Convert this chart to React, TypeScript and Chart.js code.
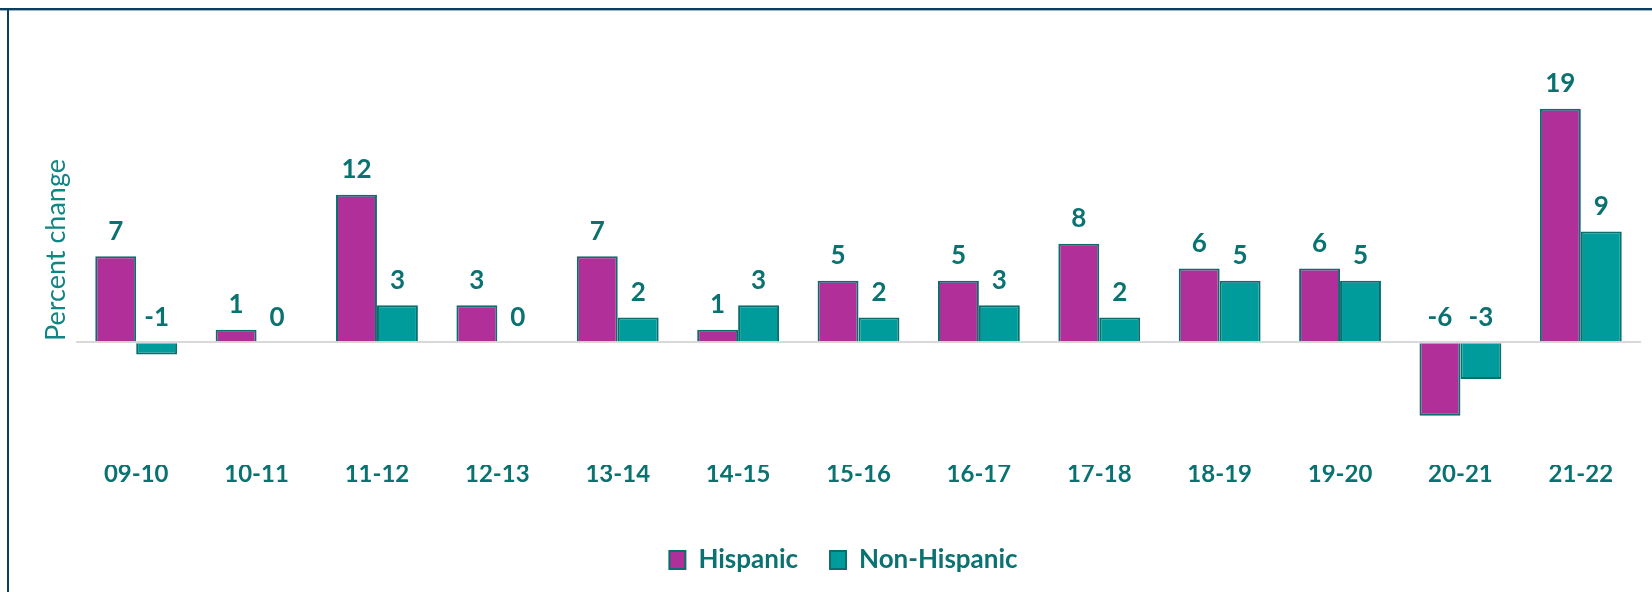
import React, { useEffect, useRef } from "react";
import { Chart, registerables } from "chart.js";

Chart.register(...registerables);

const categories = ["09-10", "10-11", "11-12", "12-13", "13-14", "14-15", "15-16", "16-17", "17-18", "18-19", "19-20", "20-21", "21-22"];
const hispanic = [7, 1, 12, 3, 7, 1, 5, 5, 8, 6, 6, -6, 19];
const nonHispanic = [-1, 0, 3, 0, 2, 3, 2, 3, 2, 5, 5, -3, 9];
const seriesNames = ["Hispanic", "Non-Hispanic"];
const yTitle = "Percent change";

const MAGENTA = "#B02F98";
const TEAL = "#009B9B";
const EDGE = "#0B6E6E";
const TEXT = "#0B7272";
const FONT = "Lato, 'Open Sans', sans-serif";

const labelPlugin = {
  id: "valueLabels",
  afterDatasetsDraw(chart: any) {
    const ctx = chart.ctx;
    const yScale = chart.scales.y;
    const zeroY = yScale.getPixelForValue(0);
    ctx.save();
    ctx.font = `bold 26px ${FONT}`;
    ctx.fillStyle = TEXT;
    ctx.textAlign = "center";
    ctx.textBaseline = "bottom";
    chart.data.datasets.forEach((ds: any, di: number) => {
      const meta = chart.getDatasetMeta(di);
      meta.data.forEach((bar: any, i: number) => {
        const v = ds.data[i];
        const top = Math.min(bar.y, zeroY);
        ctx.fillText(String(v), bar.x, top - 12);
      });
    });
    ctx.restore();
  },
};

export default function App() {
  const ref = useRef<HTMLCanvasElement | null>(null);
  useEffect(() => {
    document.body.style.margin = "0";
    const chart = new Chart(ref.current as HTMLCanvasElement, {
      type: "bar",
      data: {
        labels: categories,
        datasets: [
          { label: seriesNames[0], data: hispanic, backgroundColor: MAGENTA, borderColor: EDGE, borderWidth: 2, categoryPercentage: 0.68, barPercentage: 1.0 },
          { label: seriesNames[1], data: nonHispanic, backgroundColor: TEAL, borderColor: EDGE, borderWidth: 2, categoryPercentage: 0.68, barPercentage: 1.0 },
        ],
      },
      options: {
        animation: false,
        responsive: false,
        maintainAspectRatio: false,
        layout: { padding: { left: 46, right: 11, top: 35, bottom: 9 } },
        plugins: {
          legend: {
            position: "bottom",
            labels: {
              boxWidth: 16,
              boxHeight: 18,
              padding: 32,
              color: TEXT,
              font: { family: FONT, size: 26, weight: "bold" },
            },
          },
          tooltip: { enabled: false },
          title: { display: false },
        },
        scales: {
          x: {
            grid: { display: false },
            border: { display: false },
            ticks: { color: TEXT, font: { family: FONT, size: 24, weight: "bold" }, padding: -13 },
            afterFit: (s: any) => { s.height = 50; },
          },
          y: {
            min: -10,
            max: 25,
            ticks: { display: false, stepSize: 5 },
            border: { display: false },
            grid: {
              drawTicks: false,
              lineWidth: 2,
              color: (c: any) => (c.tick && c.tick.value === 0 ? "#D9D9D9" : "rgba(0,0,0,0)"),
            },
            title: {
              display: true,
              text: yTitle,
              color: "#108585",
              font: { family: FONT, size: 27, weight: "normal" },
              padding: { top: -6, bottom: 0 },
            },
            afterFit: (s: any) => { s.width = 30; },
          },
        },
      },
      plugins: [labelPlugin],
    });
    return () => chart.destroy();
  }, []);

  return (
    <div style={{ position: "relative", width: 1652, height: 592, background: "#fff", overflow: "hidden" }}>
      <canvas ref={ref} width={1652} height={592} style={{ position: "absolute", left: 0, top: 0 }} />
      <div style={{ position: "absolute", left: 0, right: 0, top: 8, height: 2, background: "#0B3D5C" }} />
      <div style={{ position: "absolute", left: 0, right: 0, top: 10, height: 1, background: "#9FB8C8" }} />
      <div style={{ position: "absolute", left: 7, top: 8, bottom: 0, width: 2, background: "#0B3D5C" }} />
    </div>
  );
}
